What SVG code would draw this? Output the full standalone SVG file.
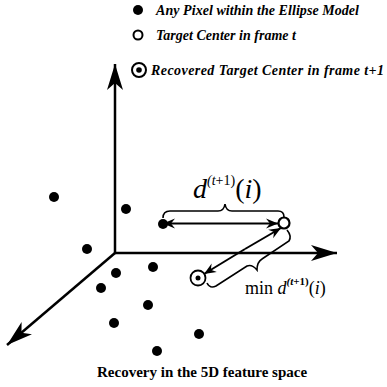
<svg xmlns="http://www.w3.org/2000/svg" width="387" height="387" viewBox="0 0 387 387">
<style>
.dot{fill:#000}
.ax{stroke:#000;stroke-width:2.5;fill:none}
.ln{stroke:#000;stroke-width:2;fill:none}
.br{stroke:#000;stroke-width:1.6;fill:none}
.leg{font-family:"Liberation Serif",serif;font-style:italic;font-weight:bold;font-size:14px;fill:#000}
.math{font-family:"Liberation Serif",serif;fill:#000}
</style>
<defs>
<marker id="big" markerUnits="userSpaceOnUse" markerWidth="30" markerHeight="20" viewBox="-27 -10 30 20" refX="0" refY="0" orient="auto">
<path d="M0,0 L-26,-8 L-19,0 L-26,8 Z" fill="#000"/>
</marker>
<marker id="sm" markerUnits="userSpaceOnUse" markerWidth="14" markerHeight="12" viewBox="-13 -6 14 12" refX="0" refY="0" orient="auto">
<path d="M0,0 L-12,-5 L-8,0 L-12,5 Z" fill="#000"/>
</marker>
</defs>
<rect width="387" height="387" fill="#fff"/>
<g id="legend">
<circle cx="138" cy="10" r="5" class="dot"/>
<text x="156" y="15" class="leg" textLength="203" lengthAdjust="spacing">Any Pixel within the Ellipse Model</text>
<circle cx="138" cy="35" r="4.5" fill="#fff" stroke="#000" stroke-width="2"/>
<text x="156" y="40" class="leg" textLength="140" lengthAdjust="spacing">Target Center in frame t</text>
<circle cx="139" cy="70" r="7" fill="#fff" stroke="#000" stroke-width="2"/>
<circle cx="139" cy="70" r="2.8" class="dot"/>
<text x="151" y="75" class="leg" font-size="13" textLength="233" lengthAdjust="spacing">Recovered Target Center in frame t+1</text>
</g>
<g id="connectors">
<line x1="115" y1="253" x2="115" y2="64" class="ax" marker-end="url(#big)"/>
<line x1="114" y1="253" x2="337" y2="253" class="ax" marker-end="url(#big)"/>
<line x1="115" y1="253" x2="7" y2="345" class="ax" marker-end="url(#big)"/>
<line x1="200" y1="223.5" x2="163" y2="223.5" class="ln" marker-end="url(#sm)"/>
<line x1="200" y1="223.5" x2="278" y2="223.5" class="ln" marker-end="url(#sm)"/>
<line x1="245" y1="249" x2="281" y2="228" class="ln" marker-end="url(#sm)"/>
<line x1="245" y1="249" x2="204" y2="274" class="ln" marker-end="url(#sm)"/>
<path d="M163,218 Q163,211 170,211 L218,211 Q224,211 225,204 Q226,211 232,211 L278,211 Q284,211 284,217" class="br"/>
<path d="M287,230 Q292,236 289,241 L262,259 Q257,262 257,270 Q252,264 247,266 L216,286 Q210,289 207,283" class="br"/>
</g>
<g id="target">
<circle cx="284" cy="223" r="5.5" fill="#fff" stroke="#000" stroke-width="2.2"/>
</g>
<g id="recovered">
<circle cx="198" cy="278" r="7.5" fill="#fff" stroke="#000" stroke-width="1.8"/>
<circle cx="198" cy="278" r="2.5" class="dot"/>
</g>
<g id="pixels">
<circle cx="163" cy="224" r="5" class="dot"/>
<circle cx="54" cy="197" r="5" class="dot"/>
<circle cx="126" cy="209" r="5" class="dot"/>
<circle cx="87" cy="249" r="5" class="dot"/>
<circle cx="116" cy="273" r="5" class="dot"/>
<circle cx="153" cy="267" r="5" class="dot"/>
<circle cx="101" cy="288" r="5" class="dot"/>
<circle cx="148" cy="305" r="5" class="dot"/>
<circle cx="114" cy="323" r="5" class="dot"/>
<circle cx="199" cy="334" r="5" class="dot"/>
<circle cx="157" cy="351" r="5" class="dot"/>
</g>
<g id="labels">
<text x="193" y="198" class="math" font-size="28"><tspan font-style="italic">d</tspan><tspan font-size="14" dy="-13" font-style="italic">(t</tspan><tspan font-size="14">+1)</tspan><tspan dy="13">(</tspan><tspan font-style="italic">i</tspan><tspan>)</tspan></text>
<text x="245" y="294" class="math" font-size="18">min <tspan font-style="italic">d</tspan><tspan font-size="11" dy="-9" font-style="italic" font-weight="bold">(t</tspan><tspan font-size="11" font-weight="bold">+1)</tspan><tspan dy="9">(</tspan><tspan font-style="italic">i</tspan>)</text>
<text x="97" y="377" class="math" font-weight="bold" font-size="15">Recovery in the 5D feature space</text>
</g>
</svg>
